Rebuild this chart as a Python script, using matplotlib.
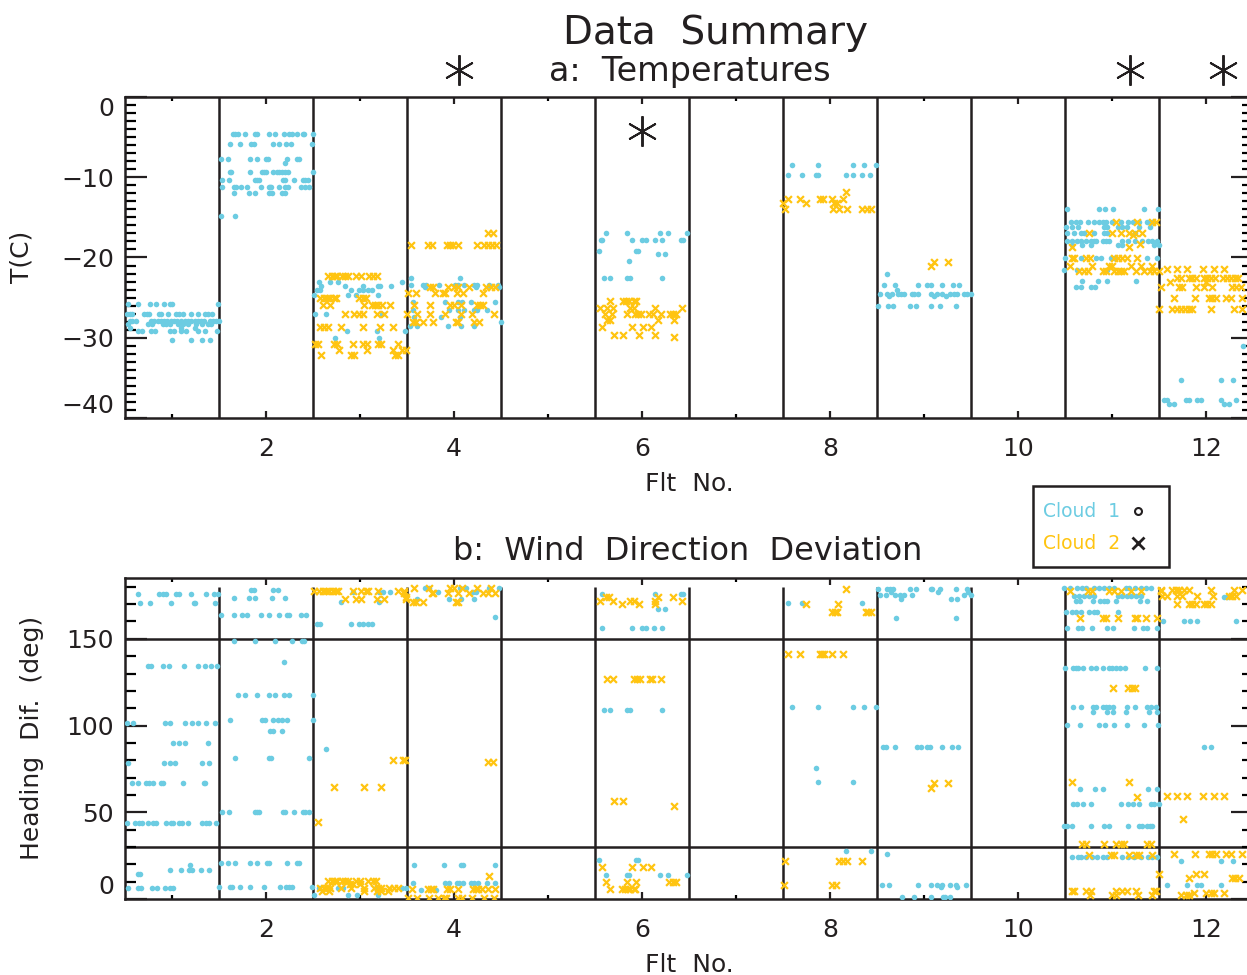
import numpy as np
import matplotlib
matplotlib.use('Agg')
import matplotlib.pyplot as plt
from matplotlib.patches import Rectangle
from matplotlib.lines import Line2D

plt.rcParams['font.family'] = ['DejaVu Sans']

CYAN = '#6ccce2'
YELLOW = '#ffc410'
INK = '#231f20'

# rows of (value, [flight positions]) for each cloud
temp_cloud1 = [
    # flt 1
    (-25.8, [0.53, 0.64, 0.77, 0.83, 0.92, 0.98, 1.00, 1.49]),
    (-27.0, [0.52, 0.55, 0.58, 0.70, 0.73, 0.76, 0.86, 0.88, 0.96, 1.04, 1.08, 1.12, 1.20, 1.28, 1.35, 1.38, 1.43]),
    (-27.9, [0.55, 0.58, 0.62, 0.78, 0.81, 0.85, 0.88, 0.92, 0.95, 0.99, 1.02, 1.05, 1.10, 1.14, 1.17, 1.20, 1.24, 1.28, 1.31, 1.34, 1.40, 1.44, 1.47, 1.50]),
    (-28.3, [0.53, 0.75, 0.79, 0.91, 0.94, 0.98, 1.06, 1.12, 1.17, 1.26, 1.32, 1.38, 1.42]),
    (-28.8, [0.55, 1.10, 1.25]),
    (-29.2, [0.64, 0.68, 0.78, 0.82, 0.98, 1.02, 1.10, 1.15, 1.28, 1.35, 1.48]),
    (-30.3, [1.00, 1.20, 1.32, 1.40]),
    # flt 2
    (-4.6, [1.65, 1.67, 1.70, 1.78, 1.88, 1.90, 2.03, 2.10, 2.19, 2.24, 2.28, 2.33, 2.39, 2.41, 2.50]),
    (-5.9, [1.62, 1.72, 1.84, 1.87, 2.07, 2.14, 2.21, 2.27, 2.49]),
    (-7.7, [1.52, 1.60, 1.83, 1.90, 2.00, 2.02, 2.22, 2.33, 2.35]),
    (-8.2, [2.20]),
    (-9.3, [1.62, 1.63, 1.83, 1.96, 1.98, 2.00, 2.08, 2.12, 2.14, 2.17, 2.20, 2.23, 2.50]),
    (-10.4, [1.53, 1.61, 1.88, 1.90, 1.93, 2.18, 2.20, 2.30, 2.39, 2.42, 2.45]),
    (-11.2, [1.53, 1.66, 1.68, 1.73, 1.80, 1.95, 2.03, 2.04, 2.05, 2.14, 2.20, 2.23, 2.37, 2.42, 2.46]),
    (-11.9, [1.66, 1.82, 1.88, 2.03, 2.06, 2.17, 2.20]),
    (-14.8, [1.52, 1.67]),
    # flt 3
    (-23.0, [2.56, 2.68, 2.77, 3.45]),
    (-23.6, [2.59, 2.84, 3.03, 3.19, 3.21, 3.33]),
    (-24.1, [2.54, 2.58, 2.90, 2.99, 3.03, 3.09, 3.13]),
    (-24.7, [2.51, 2.87, 2.96, 3.19]),
    (-27.1, [2.52, 2.64, 3.23]),
    (-29.1, [2.86, 3.18, 3.48]),
    (-30.0, [2.73, 3.20]),
    # flt 4
    (-22.5, [3.54, 4.06]),
    (-23.4, [3.54, 3.67, 3.70, 3.84, 4.01, 4.04, 4.11, 4.21, 4.25, 4.37, 4.47]),
    (-23.7, [3.69, 4.23, 4.48]),
    (-25.6, [3.56, 3.91, 4.04, 4.09, 4.18, 4.44]),
    (-26.5, [3.56, 3.95, 4.04, 4.11, 4.21, 4.25, 4.35]),
    (-27.4, [3.58, 3.86, 4.06]),
    (-28.0, [4.50]),
    (-28.5, [3.53, 3.61, 3.94, 4.08, 4.21]),
    # flt 6
    (-17.0, [5.62, 5.84, 6.19, 6.28, 6.48]),
    (-17.8, [5.56, 5.58, 5.89, 6.00, 6.04, 6.14, 6.21, 6.41, 6.44]),
    (-19.2, [5.54, 5.94, 5.96]),
    (-19.6, [6.17, 6.24]),
    (-20.4, [5.86]),
    (-22.6, [5.60, 5.66, 5.84, 5.87, 6.21]),
    # flt 8
    (-8.5, [7.60, 7.87, 8.25, 8.36, 8.49]),
    (-9.75, [7.55, 7.70, 7.85, 7.87, 8.17, 8.25, 8.34, 8.43]),
    # flt 9
    (-22.1, [8.61]),
    (-23.4, [8.58, 8.69, 8.94, 9.03, 9.07, 9.19, 9.31, 9.37]),
    (-24.0, [8.71]),
    (-24.5, [8.53, 8.61, 8.66, 8.72, 8.76, 8.79, 8.87, 8.89, 8.94, 9.08, 9.14, 9.19, 9.28, 9.32, 9.35, 9.43, 9.46, 9.50]),
    (-24.8, [8.63, 9.11, 9.23]),
    (-26.1, [8.51, 8.62, 8.67, 8.85, 8.92, 9.08, 9.17, 9.34]),
    # flt 11
    (-14.0, [10.52, 10.86, 10.93, 11.01, 11.34, 11.49]),
    (-15.6, [10.56, 10.62, 10.66, 10.74, 10.81, 10.86, 10.90, 10.94, 11.00, 11.10, 11.17, 11.22, 11.29, 11.37, 11.43]),
    (-16.2, [10.51, 10.58, 10.64, 10.92, 10.95, 11.06, 11.11, 11.16, 11.29, 11.40]),
    (-17.0, [10.52, 10.60, 10.67, 10.70, 10.81, 10.92, 10.95, 11.24]),
    (-17.9, [10.52, 10.58, 10.63, 10.67, 10.72, 10.78, 10.81, 10.83, 10.90, 10.94, 10.97, 11.11, 11.17, 11.24, 11.32, 11.38, 11.43, 11.48]),
    (-18.4, [10.57, 10.68, 10.78, 11.06, 11.11, 11.45, 11.50]),
    (-20.1, [10.50, 10.67, 10.83, 10.88, 10.99, 11.02, 11.37, 11.48]),
    (-21.5, [10.49, 10.63, 10.95]),
    (-22.9, [10.68, 10.85, 10.95, 11.26]),
    (-23.7, [10.62, 10.67, 10.78, 10.82]),
    # flt 12
    (-31.0, [12.39]),
    (-35.3, [11.73, 12.16, 12.29]),
    (-37.8, [11.55, 11.58, 11.79, 11.82, 11.90, 11.95, 12.16, 12.32]),
    (-38.2, [11.61, 11.66, 12.19, 12.24]),
]

temp_cloud2 = [
    # flt 3
    (-22.3, [2.66, 2.70, 2.73, 2.76, 2.81, 2.84, 2.87, 2.96, 3.01, 3.10, 3.14, 3.18]),
    (-25.0, [2.57, 2.62, 2.65, 2.68, 2.72, 2.75, 2.99, 3.03, 3.06]),
    (-25.9, [2.61, 2.68, 3.04, 3.13, 3.16, 3.19, 3.23, 3.32]),
    (-27.1, [2.84, 2.94, 2.99, 3.03, 3.18, 3.26]),
    (-28.6, [2.58, 2.62, 2.66, 2.80, 3.03, 3.21, 3.35]),
    (-30.8, [2.52, 2.55, 2.72, 2.76, 2.93, 3.03, 3.08, 3.19, 3.22, 3.41]),
    (-31.5, [2.78, 3.08, 3.35, 3.45, 3.49]),
    (-32.2, [2.59, 2.90, 2.94, 3.37, 3.41]),
    # flt 4
    (-17.0, [4.36, 4.41]),
    (-18.5, [3.54, 3.72, 3.77, 3.93, 3.96, 3.99, 4.04, 4.24, 4.32, 4.36, 4.40, 4.45]),
    (-23.7, [3.75, 3.78, 3.94, 4.00, 4.04, 4.16, 4.34, 4.39, 4.44]),
    (-24.4, [3.51, 3.60, 3.80, 3.88, 3.91, 4.03, 4.10, 4.31]),
    (-25.9, [3.57, 3.74, 3.96, 4.00, 4.08, 4.24, 4.28, 4.31]),
    (-27.1, [3.50, 3.61, 3.74, 3.91, 4.08, 4.19, 4.43]),
    (-28.1, [3.56, 3.60, 3.67, 3.78, 4.02, 4.04, 4.21, 4.27]),
    # flt 6
    (-25.4, [5.66, 5.80, 5.83, 5.86, 5.91, 5.94]),
    (-26.3, [5.55, 5.63, 5.69, 5.87, 5.91, 6.14, 6.43]),
    (-27.0, [5.61, 5.68, 5.84, 5.93, 5.96, 5.99, 6.08, 6.12, 6.20, 6.30, 6.33, 6.36]),
    (-27.8, [5.63, 5.66, 6.17, 6.34]),
    (-28.6, [5.58, 5.89, 6.01, 6.10]),
    (-29.6, [5.70, 5.80, 5.97, 6.14]),
    (-29.9, [6.34]),
    # flt 8
    (-11.8, [8.17]),
    (-12.7, [7.55, 7.68, 7.89, 7.93, 8.02, 8.14]),
    (-13.2, [7.50, 7.74, 8.04, 8.08]),
    (-13.9, [7.52, 8.03, 8.10, 8.18, 8.34, 8.39, 8.44]),
    # flt 9
    (-20.5, [9.11, 9.26]),
    (-21.1, [9.07]),
    # flt 11
    (-15.6, [11.04, 11.27, 11.43, 11.47]),
    (-16.9, [10.76, 11.00, 11.10, 11.18, 11.24, 11.32]),
    (-17.2, [11.22]),
    (-18.3, [11.30]),
    (-18.7, [10.58, 11.18]),
    (-20.1, [10.57, 10.60, 10.72, 10.77, 11.02, 11.06, 11.11, 11.16, 11.27]),
    (-21.0, [10.55, 10.79, 10.97, 11.00, 11.20, 11.31, 11.43]),
    (-21.7, [10.65, 10.70, 10.74, 10.90, 10.94, 11.02, 11.06, 11.10, 11.13, 11.26, 11.34, 11.40, 11.45, 11.50]),
    # flt 12
    (-21.4, [11.59, 11.69, 11.80, 11.97, 12.09, 12.19]),
    (-22.6, [11.69, 11.73, 11.82, 11.85, 11.89, 11.98, 12.01, 12.05, 12.10, 12.18, 12.22, 12.27, 12.31, 12.34]),
    (-23.0, [11.62, 12.00]),
    (-23.7, [11.52, 11.71, 11.74, 11.89, 11.98, 12.06, 12.28, 12.32, 12.37]),
    (-25.0, [11.66, 11.88, 12.03, 12.06, 12.11, 12.21, 12.27, 12.38]),
    (-26.4, [11.50, 11.64, 11.69, 11.73, 11.78, 11.82, 11.85, 12.05, 12.30, 12.38]),
]

head_cloud1 = [
    # flt 1
    (175.8, [0.64, 0.86, 0.91, 0.94, 1.04, 1.08, 1.20, 1.36, 1.45, 1.49]),
    (170.6, [0.66, 0.77, 0.99, 1.23, 1.25, 1.46]),
    (134.3, [0.75, 0.78, 0.91, 0.97, 1.13, 1.28, 1.35, 1.42, 1.48]),
    (101.4, [0.52, 0.59, 0.93, 0.98, 1.14, 1.21, 1.28, 1.36, 1.46]),
    (89.9, [1.01, 1.08, 1.14, 1.38]),
    (78.4, [0.53, 0.92, 0.98, 1.03, 1.32, 1.39]),
    (66.9, [0.57, 0.64, 0.72, 0.76, 0.80, 0.88, 0.90, 1.12, 1.34, 1.35]),
    (43.8, [0.52, 0.61, 0.65, 0.68, 0.74, 0.80, 0.83, 0.94, 0.99, 1.01, 1.07, 1.11, 1.17, 1.32, 1.36, 1.39, 1.47]),
    (19.6, [1.19]),
    (16.7, [0.98, 1.10, 1.18, 1.21, 1.31, 1.39]),
    (14.4, [0.64, 0.66]),
    (6.3, [0.53, 0.64, 0.67, 0.79, 0.84, 0.93, 0.98, 1.01]),
    # flt 2
    (178.1, [1.84, 1.87, 2.07, 2.13]),
    (173.5, [1.66, 1.82, 1.88, 2.06, 2.20]),
    (163.7, [1.52, 1.66, 1.75, 1.80, 1.95, 2.03, 2.14, 2.22, 2.24, 2.37, 2.43]),
    (148.7, [1.66, 1.88, 2.10, 2.28, 2.38, 2.41]),
    (136.6, [2.19]),
    (117.6, [1.70, 1.78, 1.90, 2.03, 2.10, 2.19, 2.25, 2.50]),
    (103.2, [1.62, 1.96, 1.99, 2.08, 2.13, 2.17, 2.22, 2.50]),
    (96.8, [2.04, 2.07, 2.17]),
    (81.3, [1.67, 2.03, 2.05, 2.46]),
    (50.1, [1.53, 1.61, 1.88, 1.90, 1.93, 2.18, 2.20, 2.30, 2.39, 2.42, 2.46]),
    (20.7, [1.52, 1.60, 1.67, 1.83, 1.90, 2.01, 2.03, 2.22, 2.33, 2.35]),
    (6.9, [1.50, 1.62, 1.64, 1.72, 1.83, 1.98, 2.15, 2.21, 2.24, 2.28, 2.49]),
    # flt 3
    (176.9, [2.93, 3.20, 3.25, 3.32]),
    (171.2, [2.80, 3.20]),
    (158.5, [2.54, 2.58, 2.90, 2.99, 3.03, 3.09, 3.13]),
    (86.5, [2.64]),
    (6.3, [2.56, 2.77, 2.82, 3.17, 3.45, 3.49]),
    (2.3, [2.51, 2.87, 2.97, 3.19]),
    # flt 4
    (179.3, [3.69, 3.73, 4.06, 4.13, 4.37, 4.48]),
    (177.0, [3.83, 4.20, 4.23]),
    (172.9, [3.61, 3.95, 4.08, 4.21]),
    (162.5, [4.44]),
    (19.6, [3.58, 3.89, 4.07, 4.10, 4.44]),
    (9.2, [3.56, 3.91, 3.95, 4.03, 4.05, 4.10, 4.18, 4.21, 4.26, 4.35, 4.44]),
    (5.2, [3.65, 3.81]),
    # flt 6
    (175.8, [5.57, 6.14, 6.41, 6.44]),
    (167.1, [6.17, 6.24]),
    (156.2, [5.58, 5.89, 6.00, 6.04, 6.13, 6.21]),
    (108.9, [5.60, 5.66, 5.84, 5.87, 6.21]),
    (22.5, [5.54, 5.94, 5.96]),
    (13.8, [5.62, 5.84, 5.86, 6.19, 6.28, 6.48]),
    # flt 8
    (170.6, [7.55, 7.70, 8.34]),
    (110.7, [7.60, 7.87, 8.25, 8.36, 8.49]),
    (75.5, [7.85]),
    (67.4, [7.87, 8.25]),
    (27.7, [8.17, 8.44]),
    # flt 9
    (178.7, [8.51, 8.61, 8.64, 8.67, 8.85, 8.92, 9.08, 9.09, 9.17, 9.34, 9.46]),
    (177.0, [8.65, 9.15, 9.47]),
    (175.2, [8.53, 8.60, 8.69, 8.74, 8.79, 8.87, 9.43, 9.50]),
    (172.9, [8.76, 9.29, 9.35]),
    (162.0, [8.70, 9.34]),
    (87.6, [8.56, 8.60, 8.69, 8.93, 8.97, 9.03, 9.06, 9.19, 9.30, 9.36]),
    (25.9, [8.61]),
    (8.1, [8.55, 8.63, 8.94, 9.08, 9.14, 9.19, 9.28, 9.34, 9.45]),
    (6.9, [9.18, 9.35]),
    (1.2, [8.77, 8.89, 9.08, 9.20, 9.22, 9.28]),
    # flt 11
    (179.3, [10.49, 10.55, 10.63, 10.68, 10.72, 10.81, 10.86, 10.91, 10.97, 11.02, 11.15, 11.18, 11.24, 11.31, 11.36, 11.42]),
    (174.6, [10.60, 10.65, 10.70, 10.76, 10.81, 11.06, 11.11, 11.16, 11.20, 11.26, 11.31]),
    (171.8, [10.62, 10.66, 10.80, 10.87, 10.92, 10.95, 11.04, 11.30, 11.37]),
    (165.4, [10.51, 10.58, 10.62, 10.67, 10.76, 10.81, 10.84, 11.06]),
    (156.2, [10.52, 10.64, 10.68, 10.79, 10.95, 11.01, 11.23, 11.33, 11.37, 11.48]),
    (133.1, [10.50, 10.59, 10.62, 10.64, 10.69, 10.78, 10.83, 10.90, 10.97, 11.00, 11.04, 11.08, 11.14, 11.35, 11.48]),
    (110.7, [10.59, 10.67, 10.80, 10.83, 10.90, 10.94, 10.97, 11.01, 11.16, 11.24, 11.37, 11.42, 11.47]),
    (107.8, [10.80, 10.95, 11.01, 11.15, 11.39, 11.48]),
    (100.3, [10.52, 10.66, 10.86, 10.93, 11.02, 11.16, 11.34, 11.49]),
    (63.4, [10.66, 10.82, 10.90, 11.38, 11.48]),
    (54.8, [10.59, 10.63, 10.69, 10.78, 11.10, 11.17, 11.22, 11.29, 11.42, 11.45, 11.50]),
    (42.1, [10.49, 10.52, 10.58, 10.78, 10.92, 10.97, 11.17, 11.29, 11.32, 11.37, 11.40, 11.43]),
    (24.2, [10.57, 10.64, 10.67, 10.72, 10.79, 10.84, 10.90, 10.95, 11.11, 11.17, 11.23, 11.31, 11.38, 11.43, 11.48]),
    # flt 12
    (174.1, [12.19, 12.22]),
    (160.2, [11.54, 11.77, 11.83, 11.90, 12.32]),
    (87.6, [11.98, 12.05]),
    (21.9, [11.73, 12.16, 12.29]),
    (8.1, [11.58, 11.80, 11.90, 11.95, 12.16]),
]

head_cloud2 = [
    # flt 3
    (177.5, [2.51, 2.56, 2.61, 2.64, 2.67, 2.71, 2.74, 2.77, 2.93, 3.01, 3.06, 3.09, 3.19, 3.40, 3.47]),
    (172.9, [2.84, 2.96, 3.01, 3.18, 3.26, 3.49]),
    (80.1, [3.35, 3.46, 3.48]),
    (64.6, [2.72, 3.04, 3.22]),
    (44.4, [2.55]),
    (10.4, [2.66, 2.70, 2.73, 2.76, 2.81, 2.84, 2.87, 2.96, 3.00, 3.09, 3.14, 3.17]),
    (8.5, [2.89, 2.93, 3.00]),
    (6.3, [2.57, 2.62, 2.65, 2.68, 2.80, 2.90, 3.04, 3.15, 3.19, 3.22, 3.31, 3.36, 3.41]),
    (4.6, [2.60, 2.67, 3.04, 3.18, 3.22, 3.30]),
    # flt 4
    (179.3, [3.57, 3.73, 3.96, 4.00, 4.09, 4.25, 4.39]),
    (176.4, [3.47, 3.77, 3.78, 3.94, 4.04, 4.16, 4.31, 4.36, 4.44]),
    (174.0, [3.49]),
    (171.2, [3.56, 3.60, 3.67, 4.02, 4.04]),
    (78.9, [4.36, 4.41]),
    (13.3, [4.37]),
    (5.8, [3.55, 3.72, 3.76, 3.78, 3.93, 3.96, 4.04, 4.20, 4.23, 4.26, 4.30, 4.36, 4.44]),
    (0.6, [3.51, 3.61, 3.73, 3.83, 3.89, 3.92, 4.04, 4.09, 4.19, 4.32, 4.43]),
    # flt 6
    (174.1, [5.62, 5.65, 6.17, 6.33]),
    (171.8, [5.55, 5.69, 5.87, 5.92, 6.14, 6.43]),
    (170.0, [5.79, 5.97, 6.14]),
    (126.8, [5.63, 5.69, 5.91, 5.95, 5.98, 6.09, 6.11, 6.20]),
    (56.5, [5.70, 5.80]),
    (53.6, [6.34]),
    (18.4, [5.58, 5.89, 6.01, 6.10]),
    (9.8, [5.62, 5.84, 5.94, 6.29, 6.33, 6.36]),
    (5.8, [5.66, 5.79, 5.82, 5.85, 5.87, 5.91, 5.93]),
    # flt 8
    (178.7, [8.17]),
    (170.0, [7.74, 8.09]),
    (165.4, [8.02, 8.05, 8.08, 8.38, 8.40, 8.44]),
    (141.2, [7.55, 7.68, 7.89, 7.91, 7.94, 8.02, 8.14]),
    (21.9, [7.52, 8.10, 8.14, 8.18, 8.34]),
    (8.1, [7.51, 8.02, 8.06]),
    # flt 9
    (66.9, [9.11, 9.26]),
    (64.0, [9.07]),
    # flt 11
    (177.5, [10.55, 10.75, 10.79, 10.97, 11.02, 11.10, 11.20, 11.31, 11.52]),
    (162.0, [10.66, 10.90, 10.94, 11.06, 11.24, 11.27, 11.36, 11.48]),
    (121.6, [11.01, 11.17, 11.21, 11.25]),
    (67.4, [10.58, 11.18]),
    (58.8, [11.27]),
    (31.7, [10.68, 10.72, 10.92, 11.04, 11.10, 11.13, 11.37, 11.42]),
    (25.4, [10.76, 10.99, 11.02, 11.18, 11.26, 11.29, 11.43]),
    (4.6, [10.57, 10.60, 10.72, 10.78, 11.04, 11.11, 11.16, 11.26, 11.45, 11.47]),
    (2.3, [10.77, 11.00, 11.04, 11.28, 11.43]),
    # flt 12
    (178.1, [11.52, 11.64, 11.68, 11.71, 11.77, 11.82, 12.05, 12.30, 12.38]),
    (174.6, [11.53, 11.59, 11.69, 11.74, 11.90, 12.07, 12.24, 12.28, 12.32]),
    (170.0, [11.69, 11.82, 11.85, 11.89, 11.98, 12.01, 12.05]),
    (59.4, [11.59, 11.69, 11.80, 11.97, 12.09, 12.19]),
    (46.1, [11.76]),
    (25.9, [11.66, 11.88, 12.03, 12.06, 12.11, 12.21, 12.27, 12.38]),
    (14.4, [11.50, 11.89, 11.98]),
    (12.1, [11.82, 12.28, 12.31, 12.35]),
    (3.5, [11.87, 12.00, 12.05, 12.08, 12.19]),
    (2.3, [11.73, 11.79, 11.82]),
]

# flights flagged with an asterisk above the panel, plus one inside it
star_flights = [4.05, 11.19, 12.18]
star_inside = (6.0, -4.25)

flt_ticks = [2, 4, 6, 8, 10, 12]
flt_bounds = [1.5, 2.5, 3.5, 4.5, 5.5, 6.5, 7.5, 8.5, 9.5, 10.5, 11.5]
head_levels = [30, 150]


def unpack(rows):
    xs, ys = [], []
    for val, pos in rows:
        xs.extend(pos)
        ys.extend([val] * len(pos))
    return np.array(xs), np.array(ys)


def style_axis(ax, ymajor, yminor):
    ax.set_xlim(0.5, 12.5)
    ax.set_xticks(flt_ticks)
    ax.set_xticks(np.arange(1, 13), minor=True)
    ax.set_yticks(ymajor)
    ax.set_yticks(yminor, minor=True)
    ax.tick_params(axis='x', which='major', direction='in', length=5, width=1.6,
                   top=True, labelsize=18, pad=14, colors=INK)
    ax.tick_params(axis='x', which='minor', direction='in', length=3, width=1.6,
                   top=True)
    ax.tick_params(axis='y', which='major', direction='in', length=16, width=1.6,
                   right=True, labelsize=18, pad=8, colors=INK)
    ax.tick_params(axis='y', which='minor', direction='in', length=8, width=1.6,
                   right=True)
    for sp in ax.spines.values():
        sp.set_linewidth(1.8)
        sp.set_color(INK)


fig = plt.figure(figsize=(12.47, 9.75), dpi=100)
top = fig.add_axes([0.1002, 0.5713, 0.9046, 0.3292])
bottom = fig.add_axes([0.1002, 0.0779, 0.9046, 0.3292])

# a: temperatures
top.set_ylim(-40, 0)
style_axis(top, [-40, -30, -20, -10, 0], np.arange(-40, 1, 1))
top.vlines(flt_bounds, -40, 0, colors=INK, linewidth=1.8, zorder=1)
x, y = unpack(temp_cloud1)
top.scatter(x, y, s=16, c=CYAN, marker='o', linewidths=0, zorder=3)
x, y = unpack(temp_cloud2)
top.scatter(x, y, s=24, c=YELLOW, marker='x', linewidths=1.6, zorder=4)
top.plot(star_flights, [3.4] * len(star_flights), linestyle='none',
         marker=(6, 2, 0), ms=22, mew=1.4, color=INK, clip_on=False)
top.plot([star_inside[0]], [star_inside[1]], linestyle='none',
         marker=(6, 2, 0), ms=22, mew=1.4, color=INK)

# b: heading difference
bottom.set_ylim(0, 185)
style_axis(bottom, [0, 50, 100, 150], np.arange(0, 181, 10))
bottom.vlines(flt_bounds, 0, 180, colors=INK, linewidth=1.8, zorder=1)
bottom.hlines(head_levels, 0.5, 12.5, colors=INK, linewidth=1.8, zorder=1)
x, y = unpack(head_cloud1)
bottom.scatter(x, y, s=16, c=CYAN, marker='o', linewidths=0, zorder=3)
x, y = unpack(head_cloud2)
bottom.scatter(x, y, s=24, c=YELLOW, marker='x', linewidths=1.6, zorder=4)

fig.canvas.draw()
# keep the end labels inside the axis range
top.yaxis.get_major_ticks()[0].label1.set_verticalalignment('bottom')
top.yaxis.get_major_ticks()[-1].label1.set_verticalalignment('top')
bottom.yaxis.get_major_ticks()[0].label1.set_verticalalignment('bottom')

# titles and axis labels
fig.text(0.5734, 0.966, 'Data  Summary', fontsize=28, ha='center', va='center', color=INK)
fig.text(0.553, 0.927, 'a:  Temperatures', fontsize=24, ha='center', va='center', color=INK)
fig.text(0.5517, 0.434, 'b:  Wind  Direction  Deviation', fontsize=23, ha='center', va='center', color=INK)
fig.text(0.553, 0.5036, 'Flt  No.', fontsize=18, ha='center', va='center', color=INK)
fig.text(0.553, 0.0103, 'Flt  No.', fontsize=18, ha='center', va='center', color=INK)
fig.text(0.0176, 0.7364, 'T(C)', fontsize=18, rotation=90, ha='center', va='center', color=INK)
fig.text(0.0257, 0.243, 'Heading  Dif.  (deg)', fontsize=18, rotation=90, ha='center', va='center', color=INK)

# legend box
fig.patches.append(Rectangle((0.8284, 0.4185), 0.1091, 0.0830, transform=fig.transFigure,
                             fill=False, edgecolor=INK, linewidth=1.8))
fig.text(0.8364, 0.4749, 'Cloud  1', fontsize=13.5, color=CYAN, ha='left', va='center')
fig.text(0.8364, 0.4421, 'Cloud  2', fontsize=13.5, color=YELLOW, ha='left', va='center')
fig.lines.append(Line2D([0.9126], [0.4759], transform=fig.transFigure, marker='o', ms=5,
                        mfc='none', mec=INK, mew=1.5, linestyle='none'))
fig.lines.append(Line2D([0.9126], [0.4431], transform=fig.transFigure, marker='x', ms=8,
                        mec=INK, mew=2, linestyle='none'))

fig.savefig('out.png', dpi=100)
